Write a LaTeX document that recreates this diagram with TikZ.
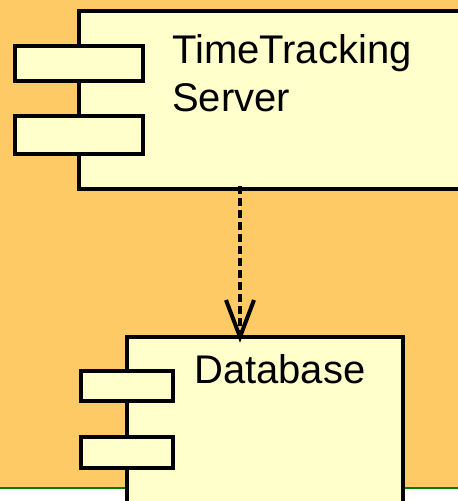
\documentclass[tikz,border=0pt]{standalone}
\usepackage{fontspec}
\setmainfont{Liberation Sans}
\usetikzlibrary{calc}
\definecolor{bgorange}{HTML}{FECA66}
\definecolor{boxfill}{HTML}{FFFFCC}
\definecolor{rulegreen}{HTML}{008000}
\tikzset{
  comp/.style={draw=black, fill=boxfill, line width=4pt, rectangle, inner sep=0pt, outer sep=0pt},
  port/.style={comp},
  label/.style={anchor=base west, inner sep=0pt, font=\fontsize{40}{48}\selectfont},
  dep/.style={line width=3.5pt, dash pattern=on 8pt off 4pt},
  barb/.style={line width=4pt, line join=miter, miter limit=20}
}
\begin{document}
\begin{tikzpicture}[x=1pt,y=-1pt]
\useasboundingbox (0,0) rectangle (458,501);
\clip (0,0) rectangle (458,501);
% backdrop
\fill[white] (0,0) rectangle (458,501);
\fill[bgorange] (0,0) rectangle (458,488);
\draw[draw=rulegreen, line width=2pt] (0,488) -- (458,488);

% TimeTracking Server component
\node[comp, minimum width=391pt, minimum height=178pt] (srv) at (274.5,100) {};
\node[port, minimum width=128pt, minimum height=35pt] (srvp1) at (79,63.5) {};
\node[port, minimum width=128pt, minimum height=38pt] (srvp2) at (79,135) {};
\node[label] (srvt1) at (172,63) {TimeTracking};
\node[label] (srvt2) at (172,111) {Server};

% Database component
\node[comp, minimum width=276pt, minimum height=180pt] (db) at (265,427) {};
\node[port, minimum width=92pt, minimum height=30pt] (dbp1) at (127,386) {};
\node[port, minimum width=92pt, minimum height=31pt] (dbp2) at (127,452.5) {};
\node[label] (dbt) at (194,383) {Database};

% dependency with an open barbed head
\coordinate (depstart) at (240,186);
\coordinate (deptip) at (depstart |- db.north);
\draw[dep] (depstart) -- (deptip);
\draw[barb] ($(deptip)+(-14,-37)$) -- (deptip) -- ($(deptip)+(14,-37)$);
\end{tikzpicture}
\end{document}
